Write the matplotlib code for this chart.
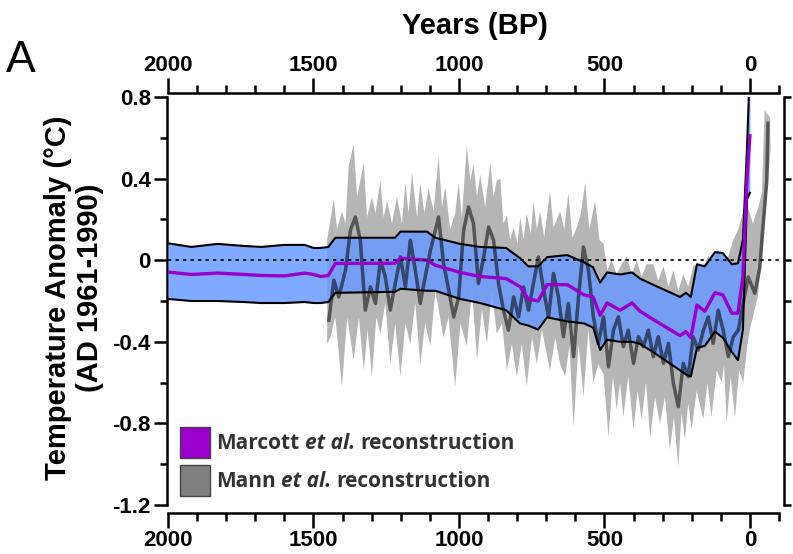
import matplotlib
matplotlib.use('Agg')
import matplotlib.pyplot as plt
from matplotlib.patches import Rectangle
from matplotlib.ticker import MultipleLocator

# ---------------- data ----------------
# Marcott et al. reconstruction (years BP, deg C)
marcott_years = [2000, 1920, 1830, 1740, 1680, 1600, 1530, 1500, 1476, 1449,
                 1425, 1220, 1201, 1110, 1081, 996, 927, 838, 790, 762,
                 728, 697, 628, 570, 539, 515, 491, 446, 405, 378,
                 333, 240, 220, 203, 182, 155, 120, 93, 62, 41,
                 24, 10, 0]
marcott_upper = [0.083, 0.065, 0.08, 0.07, 0.065, 0.075, 0.075, 0.06, 0.06, 0.065,
                 0.11, 0.11, 0.14, 0.14, 0.11, 0.08, 0.065, 0.06, 0.01, -0.03,
                 -0.03, 0.015, 0.025, -0.01, -0.035, -0.11, -0.06, -0.07, -0.06, -0.09,
                 -0.12, -0.18, -0.16, -0.18, -0.02, -0.03, 0.04, 0.035, -0.02, -0.015,
                 0.10, 0.55, 0.95]
marcott_mean = [-0.058, -0.07, -0.063, -0.07, -0.075, -0.077, -0.063, -0.07, -0.08, -0.075,
                -0.016, -0.015, 0.01, 0.0, -0.025, -0.06, -0.08, -0.09, -0.13, -0.19,
                -0.20, -0.12, -0.12, -0.17, -0.18, -0.27, -0.21, -0.245, -0.21, -0.25,
                -0.29, -0.37, -0.35, -0.38, -0.22, -0.25, -0.16, -0.17, -0.26, -0.26,
                -0.08, 0.40, 0.61]
marcott_lower = [-0.19, -0.20, -0.20, -0.205, -0.21, -0.21, -0.205, -0.21, -0.21, -0.205,
                 -0.16, -0.155, -0.14, -0.15, -0.15, -0.19, -0.21, -0.245, -0.31, -0.32,
                 -0.34, -0.28, -0.30, -0.31, -0.33, -0.44, -0.39, -0.40, -0.40, -0.41,
                 -0.45, -0.54, -0.56, -0.57, -0.43, -0.42, -0.35, -0.38, -0.45, -0.49,
                 -0.34, 0.30, 0.33]

# Mann et al. reconstruction, central line (years BP, deg C)
mann_years = [1447, 1430, 1413, 1390, 1373, 1356, 1339, 1322, 1304, 1287,
              1270, 1253, 1236, 1219, 1201, 1184, 1167, 1150, 1133, 1116,
              1098, 1081, 1070, 1053, 1035, 1018, 1001, 984, 967, 950,
              933, 915, 898, 881, 864, 847, 830, 812, 795, 778,
              761, 744, 727, 709, 692, 675, 658, 641, 624, 606,
              589, 572, 555, 538, 521, 503, 486, 469, 452, 435,
              418, 400, 383, 366, 349, 332, 315, 297, 280, 263,
              246, 229, 212, 195, 177, 160, 143, 126, 109, 92,
              74, 57, 40, 23, 6, -17, -34, -41, -58, -62]
mann_mean = [-0.294, -0.098, -0.180, -0.049, 0.147, 0.212, 0.098, -0.245, -0.131, -0.212,
             0.0, -0.082, -0.245, -0.114, 0.016, -0.131, 0.098, -0.049, -0.212, -0.082,
             0.049, 0.147, 0.212, -0.016, -0.147, -0.278, -0.180, 0.147, 0.261, 0.180,
             -0.114, 0.016, 0.163, 0.098, -0.114, -0.245, -0.343, -0.180, -0.278, -0.131,
             -0.245, -0.114, 0.016, -0.147, -0.278, -0.065, -0.180, -0.375, -0.212, -0.473,
             -0.180, 0.065, -0.049, -0.278, -0.408, -0.278, -0.522, -0.343, -0.278, -0.424,
             -0.343, -0.506, -0.375, -0.424, -0.343, -0.473, -0.375, -0.506, -0.408, -0.604,
             -0.718, -0.506, -0.571, -0.375, -0.441, -0.343, -0.278, -0.408, -0.245, -0.343,
             -0.473, -0.375, -0.343, -0.212, -0.082, -0.162, -0.034, 0.098, 0.392, 0.671]

# Mann et al. uncertainty envelope: upper edge
mann_hi_years = [1453, 1430, 1419, 1402, 1390, 1379, 1362, 1350, 1339, 1327,
                 1316, 1299, 1287, 1270, 1259, 1247, 1230, 1213, 1196, 1184,
                 1173, 1161, 1144, 1133, 1119, 1104, 1087, 1070, 1058, 1047,
                 1030, 1013, 1001, 990, 973, 961, 950, 938, 927, 910,
                 892, 881, 870, 858, 847, 835, 824, 812, 799, 789,
                 778, 767, 753, 744, 732, 721, 707, 687, 675, 661,
                 652, 638, 624, 610, 595, 581, 566, 552, 532, 517,
                 503, 490, 475, 458, 441, 423, 406, 389, 372, 355,
                 332, 315, 297, 280, 263, 246, 229, 212, 195, 177,
                 160, 143, 126, 109, 92, 74, 57, 40, 25, 11,
                 -10, -29, -41, -51, -58, -69]
mann_upper = [0.10, 0.30, 0.15, 0.24, 0.18, 0.46, 0.57, 0.31, 0.39, 0.48,
              0.21, 0.31, 0.23, 0.39, 0.21, 0.29, 0.18, 0.31, 0.18, 0.38,
              0.23, 0.43, 0.21, 0.38, 0.23, 0.35, 0.24, 0.51, 0.26, 0.36,
              0.15, 0.23, 0.38, 0.21, 0.56, 0.39, 0.47, 0.31, 0.42, 0.26,
              0.48, 0.31, 0.39, 0.40, 0.18, 0.22, 0.10, 0.16, 0.08, 0.21,
              0.10, 0.23, 0.13, 0.29, 0.15, 0.24, 0.11, 0.34, 0.16, 0.21,
              0.24, 0.15, 0.33, 0.11, 0.16, 0.23, 0.38, 0.15, 0.29, 0.10,
              0.08, -0.05, 0.0, -0.07, -0.02, 0.02, -0.07, 0.0, -0.08, -0.02,
              -0.02, -0.10, -0.03, -0.13, -0.05, -0.15, -0.07, -0.13, -0.03, -0.02,
              -0.03, 0.02, 0.0, 0.05, 0.0, 0.02, 0.10, 0.15, 0.23, 0.28,
              0.18, 0.26, 0.33, 0.74, 0.72, 0.70]

# Mann et al. uncertainty envelope: lower edge
mann_lo_years = [1453, 1442, 1425, 1402, 1384, 1362, 1344, 1327, 1314, 1299,
                 1284, 1270, 1253, 1236, 1219, 1201, 1184, 1167, 1150, 1133,
                 1116, 1098, 1081, 1053, 1036, 1013, 995, 973, 955, 938,
                 921, 904, 887, 870, 852, 835, 818, 801, 784, 767,
                 749, 732, 715, 687, 669, 652, 635, 620, 606, 589,
                 572, 555, 538, 521, 503, 486, 471, 458, 446, 435,
                 418, 400, 386, 372, 357, 343, 326, 309, 292, 275,
                 261, 246, 235, 223, 212, 200, 183, 160, 146, 132,
                 114, 97, 89, 80, 66, 51, 37, 23, 9, 0,
                 -27, -45, -62, -71]
mann_lower = [-0.41, -0.38, -0.28, -0.62, -0.28, -0.49, -0.28, -0.54, -0.34, -0.57,
              -0.28, -0.36, -0.21, -0.51, -0.31, -0.57, -0.31, -0.41, -0.21, -0.51,
              -0.31, -0.42, -0.15, -0.38, -0.28, -0.62, -0.31, -0.42, -0.15, -0.49,
              -0.24, -0.41, -0.15, -0.36, -0.31, -0.54, -0.41, -0.57, -0.41, -0.62,
              -0.38, -0.51, -0.34, -0.54, -0.38, -0.51, -0.57, -0.42, -0.82, -0.41,
              -0.67, -0.34, -0.60, -0.51, -0.56, -0.87, -0.57, -0.73, -0.60, -0.77,
              -0.57, -0.83, -0.64, -0.78, -0.60, -0.87, -0.67, -0.80, -0.67, -0.93,
              -0.77, -1.01, -0.75, -0.88, -0.70, -0.83, -0.64, -0.78, -0.60, -0.77,
              -0.54, -0.60, -0.51, -0.80, -0.57, -0.77, -0.54, -0.60, -0.42, -0.34,
              -0.18, 0.06, 0.39, 0.54]

x_ticks = [2000, 1500, 1000, 500, 0]
x_tick_labels = ['2000', '1500', '1000', '500', '0']
y_ticks = [0.8, 0.4, 0.0, -0.4, -0.8, -1.2]
y_tick_labels = ['0.8', '0.4', '0', '-0.4', '-0.8', '-1.2']

legend_labels = [('Marcott ', 'et al.', ' reconstruction'), ('Mann ', 'et al.', ' reconstruction')]
legend_colors = ['#9a00cc', '#7f7f7f']

# ---------------- figure ----------------
W, H = 793, 554
fig = plt.figure(figsize=(W / 100, H / 100), dpi=100)
ax = fig.add_axes([168 / W, 1 - 505 / H, (779 - 168) / W, (505 - 97) / H])
ax.set_xlim(2000, -100)
ax.set_ylim(-1.2, 0.8)

tick_font = dict(family='Liberation Sans', weight='bold', size=16)

# Mann reconstruction (below)
n_hi = min(len(mann_hi_years), len(mann_upper))
n_lo = min(len(mann_lo_years), len(mann_lower))
env_x = list(mann_hi_years[:n_hi]) + list(mann_lo_years[:n_lo])[::-1]
env_y = list(mann_upper[:n_hi]) + list(mann_lower[:n_lo])[::-1]
ax.fill(env_x, env_y, color='#b5b5b5', lw=0, zorder=1)
ax.plot(mann_years, mann_mean, color='#555555', lw=2.5, zorder=2)

# Marcott band (mostly opaque, on top)
band = ax.fill_between(marcott_years, marcott_lower, marcott_upper, color='#6a9bff',
                       alpha=0.85, lw=0, zorder=3)
# Mann line seen through the band (dark navy)
navy, = ax.plot(mann_years, mann_mean, color='#34476f', lw=2.5, zorder=3.5)
navy.set_clip_path(band.get_paths()[0], ax.transData)

ax.plot(marcott_years, marcott_upper, color='black', lw=1.5, zorder=4)
ax.plot(marcott_years, marcott_lower, color='black', lw=1.5, zorder=4)
ax.plot(marcott_years, marcott_mean, color='#9a00cc', lw=2.4, zorder=5)

# zero line
ax.axhline(0, color='black', lw=1.2, ls=(0, (2, 2.5)), zorder=6)

# spines
for s in ['left', 'right', 'top', 'bottom']:
    ax.spines[s].set_linewidth(1.8)
ax.spines['left'].set_position(('outward', 1))
ax.spines['bottom'].set_position(('outward', 6))
ax.spines['top'].set_position(('outward', 3))
ax.spines['right'].set_visible(False)

ax.set_xticks(x_ticks)
ax.set_xticklabels(x_tick_labels, fontdict=tick_font)
ax.xaxis.set_minor_locator(MultipleLocator(100))
ax.tick_params(axis='x', which='both', top=True, bottom=True, labeltop=True,
               labelbottom=True, direction='out', width=1.8, pad=1.8)
ax.tick_params(axis='x', which='major', length=10.5)
ax.tick_params(axis='x', which='minor', length=5.8)

ax.set_yticks(y_ticks)
ax.set_yticklabels(y_tick_labels, fontdict=tick_font)
ax.yaxis.set_minor_locator(MultipleLocator(0.2))
ax.tick_params(axis='y', which='both', left=True, right=False, direction='out',
               width=1.8, pad=2)
ax.tick_params(axis='y', which='major', length=9.5)
ax.tick_params(axis='y', which='minor', length=5)

# right spine with small ticks
axr = ax.twinx()
axr.set_ylim(-1.2, 0.8)
for s in ['left', 'top', 'bottom']:
    axr.spines[s].set_visible(False)
axr.spines['right'].set_linewidth(1.8)
axr.spines['right'].set_position(('outward', 3.6))
axr.yaxis.set_major_locator(MultipleLocator(0.2))
axr.tick_params(axis='y', which='both', right=True, labelright=False, direction='out',
                width=1.8, length=5)

# texts
fig.text(475 / W, 1 - 26 / H, 'Years (BP)', family='Liberation Sans', weight='bold',
         size=21, ha='center', va='center')
fig.text(6 / W, 1 - 72 / H, 'A', family='Liberation Sans', size=32, ha='left',
         va='baseline')
fig.text(58 / W, 1 - 298 / H, 'Temperature Anomaly (°C)', family='Liberation Sans',
         weight='bold', size=21, rotation=90, ha='center', va='center')
fig.text(90 / W, 1 - 288 / H, '(AD 1961-1990)', family='Liberation Sans',
         weight='bold', size=21, rotation=90, ha='center', va='center')

# legend
renderer = fig.canvas.get_renderer()
leg_font = dict(family='Open Sans', weight='bold', size=15, color='#333333')


def space_width():
    sp = fig.text(0, 0, 'M M', **leg_font)
    sp2 = fig.text(0, 0, 'MM', **leg_font)
    w = sp.get_window_extent(renderer).width - sp2.get_window_extent(renderer).width
    sp.remove()
    sp2.remove()
    return w


box_tops = [427, 465]
baselines = [449, 487]
for (a, b, c), col, top, base in zip(legend_labels, legend_colors, box_tops, baselines):
    fig.add_artist(Rectangle((180 / W, 1 - (top + 31) / H), 30 / W, 31 / H,
                             transform=fig.transFigure, facecolor=col,
                             edgecolor='#444444', lw=1))
    x = 216
    for piece, style in [(a, 'normal'), (b, 'italic'), (c, 'normal')]:
        if piece.startswith(' '):
            x += space_width()
        t = fig.text(x / W, 1 - base / H, piece.strip(), style=style, ha='left',
                     va='baseline', **leg_font)
        x += t.get_window_extent(renderer).width
        if piece.endswith(' '):
            x += space_width()

fig.savefig('out.png', dpi=100)
